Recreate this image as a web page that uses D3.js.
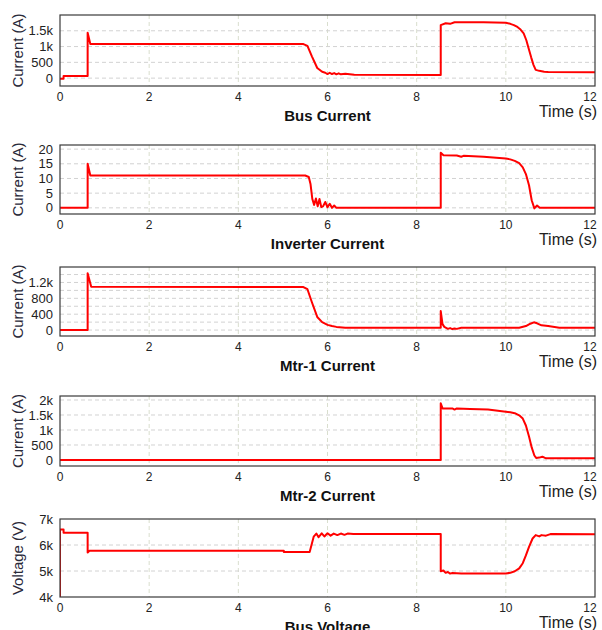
<!DOCTYPE html>
<html>
<head>
<meta charset="utf-8">
<script src="https://cdn.jsdelivr.net/npm/d3@7"></script>
<style>
  body { margin: 0; background: #fff; }
  svg { font-family: Arial, "Liberation Sans", sans-serif; }
</style>
</head>
<body>
<div class="chart"></div>
<script>
// Dati (tempo in s)
const xTicks = [0, 2, 4, 6, 8, 10, 12];

const busT = [0, 0.08, 0.08, 0.62, 0.62, 0.68, 5.46, 5.55, 5.65, 5.77, 5.88, 5.95, 6.0, 6.05, 6.1, 6.15, 6.2, 6.25, 6.3, 6.4, 6.6, 8.54, 8.54, 8.65, 8.75, 8.85, 9.0, 9.5, 10.0, 10.1, 10.18, 10.26, 10.33, 10.4, 10.46, 10.52, 10.57, 10.62, 10.67, 10.75, 10.86, 10.95, 12.05];
const busV = [-20, -20, 70, 70, 1440, 1080, 1080, 1020, 690, 320, 200, 170, 130, 170, 130, 160, 120, 150, 120, 140, 105, 100, 1680, 1740, 1720, 1770, 1770, 1770, 1755, 1720, 1680, 1620, 1540, 1420, 1200, 900, 650, 420, 260, 230, 200, 190, 185];

const invT = [0, 0.62, 0.62, 0.68, 5.5, 5.58, 5.62, 5.66, 5.7, 5.74, 5.78, 5.82, 5.86, 5.9, 5.95, 6.0, 6.05, 6.1, 6.15, 6.2, 8.54, 8.54, 8.6, 8.9, 9.0, 9.05, 9.5, 10.0, 10.1, 10.2, 10.3, 10.38, 10.45, 10.52, 10.58, 10.64, 10.7, 10.76, 10.82, 12.05];
const invV = [0, 0, 15, 11, 11, 10.5, 8, 3, 1, 3.2, 0.5, 3, 0.3, 0.5, 2, 0.2, 1.4, 0, 0.8, 0, 0, 18.8, 17.9, 17.8, 17.4, 17.7, 17.4, 16.8, 16.5, 16.0, 15.2, 13.8, 11.5, 7.7, 2.6, -0.2, 0.8, 0, 0, 0];

const m1T = [0, 0.62, 0.62, 0.7, 5.46, 5.55, 5.65, 5.77, 5.88, 6.0, 6.1, 6.2, 6.4, 8.54, 8.54, 8.58, 8.62, 8.7, 8.75, 8.8, 8.85, 8.9, 9.0, 10.3, 10.45, 10.55, 10.63, 10.7, 10.8, 10.95, 11.2, 12.05];
const m1V = [0, 0, 1430, 1090, 1085, 1030, 700, 330, 200, 130, 100, 80, 60, 58, 480, 150, 80, 30, 50, 25, 40, 30, 58, 58, 100, 160, 195, 170, 120, 100, 60, 58];

const m2T = [0, 8.54, 8.54, 8.58, 8.8, 8.85, 8.9, 9.2, 9.6, 10.0, 10.1, 10.2, 10.3, 10.38, 10.45, 10.52, 10.58, 10.64, 10.68, 10.75, 10.82, 10.9, 12.05];
const m2V = [0, 0, 1890, 1720, 1720, 1680, 1720, 1700, 1680, 1610, 1590, 1560, 1490, 1380, 1150, 780, 420, 150, 70, 80, 110, 55, 55];

const bvT = [0, 0, 0.08, 0.08, 0.62, 0.62, 0.66, 5.02, 5.02, 5.6, 5.69, 5.75, 5.8, 5.87, 5.93, 6.0, 6.07, 6.14, 6.22, 6.3, 6.38, 6.45, 6.58, 8.54, 8.54, 8.6, 8.65, 8.7, 8.75, 8.8, 9.0, 10.0, 10.1, 10.2, 10.3, 10.38, 10.45, 10.52, 10.6, 10.67, 10.75, 10.8, 10.9, 11.0, 12.05];
const bvV = [4000, 6600, 6600, 6470, 6470, 5710, 5780, 5780, 5730, 5730, 6320, 6440, 6300, 6450, 6330, 6450, 6360, 6440, 6380, 6440, 6390, 6440, 6420, 6420, 4990, 5020, 4930, 4960, 4900, 4920, 4900, 4900, 4930, 4990, 5100, 5300, 5600, 5930, 6250, 6380, 6330, 6380, 6360, 6420, 6410];

const busTicks = [0, 500, 1000, 1500];
const invTicks = [0, 5, 10, 15, 20];
const m1Ticks = [0, 400, 800, 1200];
const m1Grid = [0, 200, 400, 600, 800, 1000, 1200, 1400];
const m2Ticks = [0, 500, 1000, 1500, 2000];
const bvTicks = [4000, 5000, 6000, 7000];

const titles = ["Bus Current", "Inverter Current", "Mtr-1 Current", "Mtr-2 Current", "Bus Voltage"];
const yLabels = ["Current (A)", "Current (A)", "Current (A)", "Current (A)", "Voltage (V)"];

// Pannelli: posizione verticale e dominio y
const panels = [
  { t: busT, v: busV, top: 15, bottom: 86, dom: [-250, 2000], ticks: busTicks, grid: busTicks },
  { t: invT, v: invV, top: 145, bottom: 214, dom: [-2.1, 21.4], ticks: invTicks, grid: invTicks },
  { t: m1T, v: m1V, top: 267, bottom: 336, dom: [-150, 1590], ticks: m1Ticks, grid: m1Grid },
  { t: m2T, v: m2V, top: 396, bottom: 466, dom: [-200, 2133], ticks: m2Ticks, grid: m2Ticks },
  { t: bvT, v: bvV, top: 519, bottom: 597, dom: [4000, 7000], ticks: bvTicks, grid: bvTicks }
];

const W = 602, H = 630;
const left = 60, right = 595;

const svg = d3.select('.chart')
  .append('svg')
  .attr('width', W)
  .attr('height', H);

const x = d3.scaleLinear().domain([0, 12]).range([left, right]);

const fmt = v => v >= 1000 ? (v / 1000) + 'k' : String(v);

panels.forEach((p, i) => {
  const y = d3.scaleLinear().domain(p.dom).range([p.bottom, p.top]);
  const g = svg.append('g');

  g.append('clipPath').attr('id', 'clip' + i)
    .append('rect')
    .attr('x', left).attr('y', p.top)
    .attr('width', right - left).attr('height', p.bottom - p.top);

  // griglia verticale
  g.selectAll('.vg').data(xTicks.filter(d => d > 0 && d < 12)).enter()
    .append('line')
    .attr('x1', d => x(d)).attr('x2', d => x(d))
    .attr('y1', p.top).attr('y2', p.bottom)
    .attr('stroke', '#d9dece').attr('stroke-dasharray', '4,3');

  // griglia orizzontale
  g.selectAll('.hg').data(p.grid.filter(d => y(d) > p.top + 1 && y(d) < p.bottom - 1)).enter()
    .append('line')
    .attr('x1', left).attr('x2', right)
    .attr('y1', d => y(d)).attr('y2', d => y(d))
    .attr('stroke', '#d2d2d2').attr('stroke-dasharray', '4,3');

  // curva
  const pts = p.t.map((t, k) => [t, p.v[k]]);
  g.append('path')
    .datum(pts)
    .attr('clip-path', `url(#clip${i})`)
    .attr('fill', 'none')
    .attr('stroke', '#ff0000')
    .attr('stroke-width', 2)
    .attr('stroke-linejoin', 'round')
    .attr('d', d3.line().x(d => x(d[0])).y(d => y(d[1])));

  // cornice
  g.append('rect')
    .attr('x', left).attr('y', p.top)
    .attr('width', right - left).attr('height', p.bottom - p.top)
    .attr('fill', 'none').attr('stroke', '#3a3a3a').attr('stroke-width', 1.2);

  // etichette asse y
  g.selectAll('.yt').data(p.ticks).enter()
    .append('text')
    .attr('x', 53).attr('y', d => y(d))
    .attr('dy', '0.35em')
    .attr('text-anchor', 'end')
    .attr('font-size', 13)
    .attr('fill', '#222')
    .text(fmt);

  // etichette asse x
  g.selectAll('.xt').data(xTicks).enter()
    .append('text')
    .attr('x', d => d === 12 ? x(d) - 5 : x(d))
    .attr('y', p.bottom + 15)
    .attr('text-anchor', 'middle')
    .attr('font-size', 12)
    .attr('fill', '#222')
    .text(d => d);

  g.append('text')
    .attr('x', 597).attr('y', p.bottom + 31)
    .attr('text-anchor', 'end')
    .attr('font-size', 16)
    .attr('fill', '#222')
    .text('Time (s)');

  g.append('text')
    .attr('x', (left + right) / 2).attr('y', p.bottom + 35)
    .attr('text-anchor', 'middle')
    .attr('font-size', 15)
    .attr('font-weight', 'bold')
    .attr('fill', '#111')
    .text(titles[i]);

  g.append('text')
    .attr('transform', `translate(23,${(p.top + p.bottom) / 2}) rotate(-90)`)
    .attr('text-anchor', 'middle')
    .attr('font-size', 15)
    .attr('fill', '#2a2a3a')
    .text(yLabels[i]);
});
</script>
</body>
</html>
